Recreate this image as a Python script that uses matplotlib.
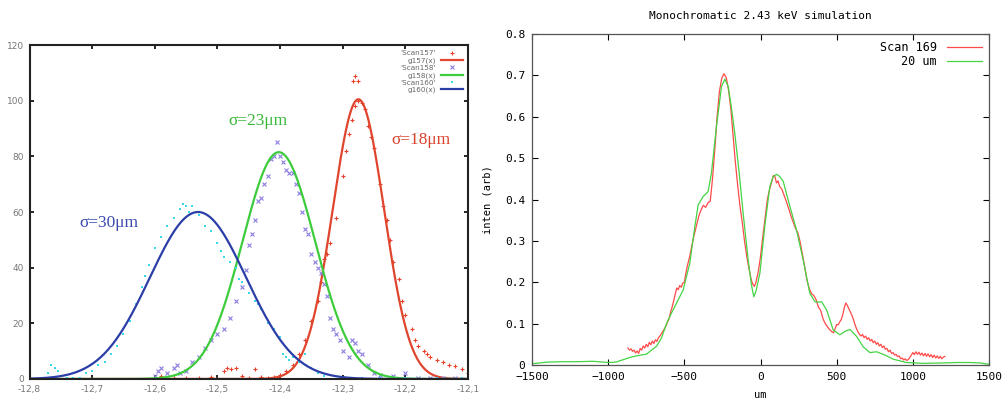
import numpy as np
import matplotlib
matplotlib.use("Agg")
import matplotlib.pyplot as plt
from matplotlib.ticker import FuncFormatter

# ---------------- left panel : three scans + gaussian fits ----------------
scan157_x = [-12.59, -12.57, -12.55, -12.53, -12.51, -12.49, -12.485, -12.478, -12.47, -12.46,
             -12.45, -12.44, -12.43, -12.42, -12.41, -12.40, -12.39, -12.38, -12.37, -12.36,
             -12.35, -12.34, -12.335, -12.33, -12.325, -12.32, -12.31, -12.30, -12.295, -12.29,
             -12.285, -12.28, -12.275, -12.27, -12.265, -12.26, -12.255, -12.25, -12.24, -12.235,
             -12.23, -12.225, -12.22, -12.21, -12.205, -12.20, -12.19, -12.185, -12.18, -12.17,
             -12.165, -12.16, -12.15, -12.14, -12.13, -12.12, -12.11, -12.10, -12.28, -12.283, -12.276]
scan157_y = [1, 0.5, 0.3, 0.5, 0.8, 3, 4, 3.5, 4, 1,
             0.5, 3.5, 0.8, 0.5, 0.8, 1.5, 3, 5, 9, 14,
             21, 28, 35, 43, 45, 49, 58, 73, 82, 88,
             93, 98, 100, 99, 97, 91, 87, 83, 70, 62,
             57, 50, 42, 36, 28, 23, 18, 14, 12, 10,
             9, 8, 7, 6, 5, 4.5, 3.5, 2, 109, 107, 107]

scan158_x = [-12.60, -12.595, -12.59, -12.58, -12.57, -12.565, -12.56, -12.55, -12.54, -12.53,
             -12.52, -12.51, -12.50, -12.49, -12.48, -12.47, -12.46, -12.455, -12.45, -12.445,
             -12.44, -12.435, -12.43, -12.425, -12.42, -12.415, -12.41, -12.405, -12.40, -12.395,
             -12.39, -12.385, -12.38, -12.375, -12.37, -12.365, -12.36, -12.355, -12.35, -12.345,
             -12.34, -12.335, -12.33, -12.325, -12.32, -12.315, -12.31, -12.305, -12.30, -12.29,
             -12.285, -12.28, -12.275, -12.27, -12.26, -12.25, -12.24, -12.22, -12.20, -12.18,
             -12.16, -12.14, -12.12]
scan158_y = [1, 3, 4, 2, 4, 5, 2, 3, 6, 8,
             11, 14, 16, 18, 22, 28, 33, 39, 48, 52,
             57, 64, 65, 70, 73, 79, 80, 85, 80, 78,
             75, 74, 74, 70, 67, 60, 54, 52, 45, 42,
             40, 38, 34, 30, 22, 18, 16, 14, 10, 8,
             14, 13, 10, 9, 5, 2, 1.5, 1, 2, 0.5,
             0.3, 0.5, 0.3]

scan160_x = [-12.79, -12.78, -12.77, -12.765, -12.76, -12.755, -12.75, -12.74, -12.73, -12.72,
             -12.71, -12.70, -12.69, -12.68, -12.67, -12.66, -12.65, -12.64, -12.63, -12.62,
             -12.615, -12.61, -12.60, -12.59, -12.58, -12.57, -12.56, -12.555, -12.55, -12.545,
             -12.54, -12.53, -12.52, -12.51, -12.50, -12.495, -12.49, -12.48, -12.47, -12.465,
             -12.46, -12.45, -12.44, -12.435, -12.43, -12.42, -12.41, -12.40, -12.395, -12.39,
             -12.385, -12.38, -12.37, -12.36, -12.35, -12.34, -12.33, -12.30, -12.27, -12.24,
             -12.20, -12.15, -12.11]
scan160_y = [0, 0.2, 2, 5, 4, 3, 1, 0.5, 0.2, 0.5,
             2, 3, 5, 6, 9, 12, 16, 21, 27, 33,
             37, 41, 47, 51, 55, 58, 61, 63, 62, 60,
             62, 59, 55, 53, 49, 46, 44, 42, 40, 36,
             35, 31, 28, 27, 25, 20, 18, 15, 9, 8,
             7, 8, 6, 9, 4, 2, 1, 0.5, 0.3, 0.5,
             0.3, 0.2, 0.3]

# gaussian fit parameters g(x) = a*exp(-(x-c)^2/(2 s^2))  (amplitude, centre, sigma)
fit_names = ["g157(x)", "g158(x)", "g160(x)"]
fit_amp = [100.5, 81.5, 60.0]
fit_cen = [-12.275, -12.402, -12.531]
fit_sig = [0.041, 0.058, 0.077]

# ---------------- right panel : scan 169 vs 20 um simulation ----------------
scan169_x = [-870, -860, -850, -840, -830, -820, -810, -800, -790, -780,
             -770, -760, -750, -740, -730, -720, -710, -700, -690, -680,
             -670, -660, -650, -640, -630, -620, -610, -600, -590, -580,
             -570, -560, -550, -540, -530, -520, -510, -500, -490, -480,
             -465, -450, -435, -420, -405, -390, -375, -360, -345, -330,
             -315, -300, -285, -270, -255, -240, -225, -210, -195, -180,
             -165, -150, -135, -120, -105, -90, -75, -60, -50, -40,
             -30, -15, 0, 15, 30, 45, 60, 75, 85, 95,
             105, 115, 125, 140, 155, 170, 185, 200, 215, 230,
             245, 260, 275, 290, 305, 320, 335, 350, 365, 380,
             395, 410, 425, 440, 455, 470, 480, 490, 500, 510,
             520, 530, 540, 550, 560, 570, 580, 590, 600, 610,
             620, 630, 640, 650, 660, 670, 680, 690, 700, 710,
             720, 730, 740, 750, 760, 770, 780, 790, 800, 810,
             820, 830, 840, 850, 860, 870, 880, 890, 900, 910,
             920, 930, 940, 950, 960, 970, 980, 990, 1000, 1010,
             1020, 1030, 1040, 1050, 1060, 1070, 1080, 1090, 1100, 1110,
             1120, 1130, 1140, 1150, 1160, 1170, 1180, 1190, 1200, 1210]
scan169_y = [0.041, 0.036, 0.039, 0.033, 0.036, 0.029, 0.034, 0.028, 0.040, 0.036,
             0.046, 0.041, 0.050, 0.044, 0.055, 0.049, 0.058, 0.052, 0.061, 0.057,
             0.066, 0.070, 0.076, 0.082, 0.088, 0.095, 0.104, 0.112, 0.128, 0.140,
             0.155, 0.170, 0.186, 0.182, 0.192, 0.188, 0.198, 0.200, 0.222, 0.240,
             0.262, 0.290, 0.315, 0.338, 0.360, 0.375, 0.386, 0.381, 0.392, 0.396,
             0.450, 0.520, 0.600, 0.660, 0.692, 0.704, 0.695, 0.665, 0.620, 0.555,
             0.490, 0.435, 0.385, 0.345, 0.300, 0.262, 0.232, 0.205, 0.195, 0.190,
             0.200, 0.225, 0.262, 0.310, 0.355, 0.400, 0.425, 0.445, 0.458, 0.455,
             0.440, 0.445, 0.432, 0.425, 0.410, 0.395, 0.378, 0.360, 0.345, 0.330,
             0.320, 0.298, 0.268, 0.238, 0.205, 0.185, 0.172, 0.168, 0.158, 0.140,
             0.132, 0.112, 0.100, 0.092, 0.085, 0.080, 0.078, 0.088, 0.098, 0.097,
             0.104, 0.110, 0.122, 0.138, 0.150, 0.144, 0.136, 0.128, 0.120, 0.110,
             0.098, 0.088, 0.080, 0.074, 0.070, 0.074, 0.066, 0.070, 0.062, 0.066,
             0.058, 0.062, 0.054, 0.058, 0.050, 0.054, 0.046, 0.050, 0.042, 0.046,
             0.038, 0.040, 0.032, 0.036, 0.028, 0.030, 0.024, 0.026, 0.020, 0.022,
             0.015, 0.017, 0.012, 0.015, 0.011, 0.013, 0.018, 0.024, 0.030, 0.025,
             0.032, 0.026, 0.031, 0.024, 0.029, 0.022, 0.028, 0.021, 0.027, 0.020,
             0.025, 0.018, 0.024, 0.017, 0.022, 0.016, 0.021, 0.015, 0.019, 0.021]

sim20_x = [-1500, -1400, -1300, -1200, -1100, -1000, -950, -900, -850, -815,
           -750, -683, -650, -617, -585, -552, -508, -464, -431, -409,
           -377, -344, -322, -289, -256, -234, -212, -190, -169, -140,
           -114, -81, -60, -48, -44, -30, -4, 28, 61, 83,
           105, 125, 149, 193, 236, 280, 324, 357, 380, 401,
           434, 477, 521, 554, 587, 631, 674, 718, 762, 817,
           871, 959, 1068, 1200, 1288, 1375, 1440, 1500]
sim20_y = [0.003, 0.007, 0.008, 0.008, 0.009, 0.006, 0.007, 0.013, 0.019, 0.022,
           0.026, 0.045, 0.065, 0.100, 0.125, 0.149, 0.181, 0.246, 0.335, 0.387,
           0.407, 0.419, 0.464, 0.577, 0.673, 0.691, 0.673, 0.620, 0.560, 0.465,
           0.367, 0.254, 0.195, 0.172, 0.165, 0.178, 0.222, 0.335, 0.431, 0.455,
           0.461, 0.456, 0.444, 0.383, 0.327, 0.254, 0.173, 0.153, 0.152, 0.153,
           0.133, 0.085, 0.073, 0.081, 0.086, 0.069, 0.044, 0.030, 0.032, 0.024,
           0.014, 0.006, 0.004, 0.005, 0.006, 0.006, 0.005, 0.002]

fig = plt.figure(figsize=(10.08, 4.04), dpi=100)
fig.patch.set_facecolor('white')

# ---- left ----
ax1 = fig.add_axes([29.5/1008, 25/404, 438.5/1008, 334/404])
ax1.plot(scan157_x, scan157_y, '+', color='#e8402a', ms=2.5, mew=0.8, label="'Scan157'")
xx = np.linspace(-12.8, -12.1, 600)
fit_cols = ['#e0452e', '#3ccc3c', '#2b3ea8']
ax1.plot(xx, fit_amp[0]*np.exp(-(xx-fit_cen[0])**2/(2*fit_sig[0]**2)), color=fit_cols[0], lw=1.6, label=fit_names[0])
ax1.plot(scan158_x, scan158_y, 'x', color='#8a7de0', ms=2.5, mew=0.8, label="'Scan158'")
ax1.plot(xx, fit_amp[1]*np.exp(-(xx-fit_cen[1])**2/(2*fit_sig[1]**2)), color=fit_cols[1], lw=1.6, label=fit_names[1])
ax1.plot(scan160_x, scan160_y, 's', color='#38d8ee', ms=1.6, mew=0, label="'Scan160'")
ax1.plot(xx, fit_amp[2]*np.exp(-(xx-fit_cen[2])**2/(2*fit_sig[2]**2)), color=fit_cols[2], lw=1.6, label=fit_names[2])

ax1.set_xlim(-12.8, -12.1)
ax1.set_ylim(0, 120)
ax1.set_xticks(np.arange(-12.8, -12.09, 0.1))
ax1.set_yticks(range(0, 121, 20))
ax1.xaxis.set_major_formatter(FuncFormatter(lambda v, p: ('%.1f' % v).replace('.', ',')))
ax1.tick_params(direction='in', top=True, right=True, length=3, width=1.2, labelsize=6.5,
                labelcolor='#777777', pad=4)
for s in ax1.spines.values():
    s.set_linewidth(1.5)
    s.set_color('#222222')
ax1.text(-12.483, 92.8, 'σ=23μm', color='#3ab83a', fontsize=12.5, family='Liberation Serif', va='center')
ax1.text(-12.222, 85.9, 'σ=18μm', color='#d9432c', fontsize=12.5, family='Liberation Serif', va='center')
ax1.text(-12.721, 55.9, 'σ=30μm', color='#3a4ab0', fontsize=12.5, family='Liberation Serif', va='center')
ax1.legend(loc='upper right', fontsize=5.2, markerfirst=False, frameon=False, handlelength=3,
           labelspacing=0.15, borderaxespad=0.3, labelcolor='#666666', markerscale=1.3)

# ---- right ----
ax2 = fig.add_axes([532/1008, 39/404, 457/1008, 331/404])
ax2.plot(scan169_x, scan169_y, color='#ff4a4a', lw=0.9, label='Scan 169')
ax2.plot(sim20_x, sim20_y, color='#44d444', lw=0.9, label='20 um')
ax2.set_xlim(-1500, 1500)
ax2.set_ylim(0, 0.8)
ax2.set_xticks(range(-1500, 1501, 500))
ax2.set_yticks(np.arange(0, 0.81, 0.1))
ax2.yaxis.set_major_formatter(FuncFormatter(lambda v, p: '0' if v == 0 else '%.1f' % v))
ax2.tick_params(direction='in', top=True, right=True, length=4, width=0.8, labelsize=8, pad=5)
for lab in ax2.get_xticklabels() + ax2.get_yticklabels():
    lab.set_family('DejaVu Sans Mono')
for s in ax2.spines.values():
    s.set_linewidth(0.9)
    s.set_color('#555555')
ax2.set_title('Monochromatic 2.43 keV simulation', fontsize=8, family='DejaVu Sans Mono', pad=11)
ax2.set_xlabel('um', fontsize=7.5, family='DejaVu Sans Mono', labelpad=6)
ax2.set_ylabel('inten (arb)', fontsize=7.5, family='DejaVu Sans Mono', labelpad=9)
ax2.legend(loc='upper right', markerfirst=False, frameon=False, handlelength=3.0,
           labelspacing=0.1, borderaxespad=0.2, prop={'family': 'DejaVu Sans Mono', 'size': 8.5})

plt.savefig('out.png', dpi=100)
